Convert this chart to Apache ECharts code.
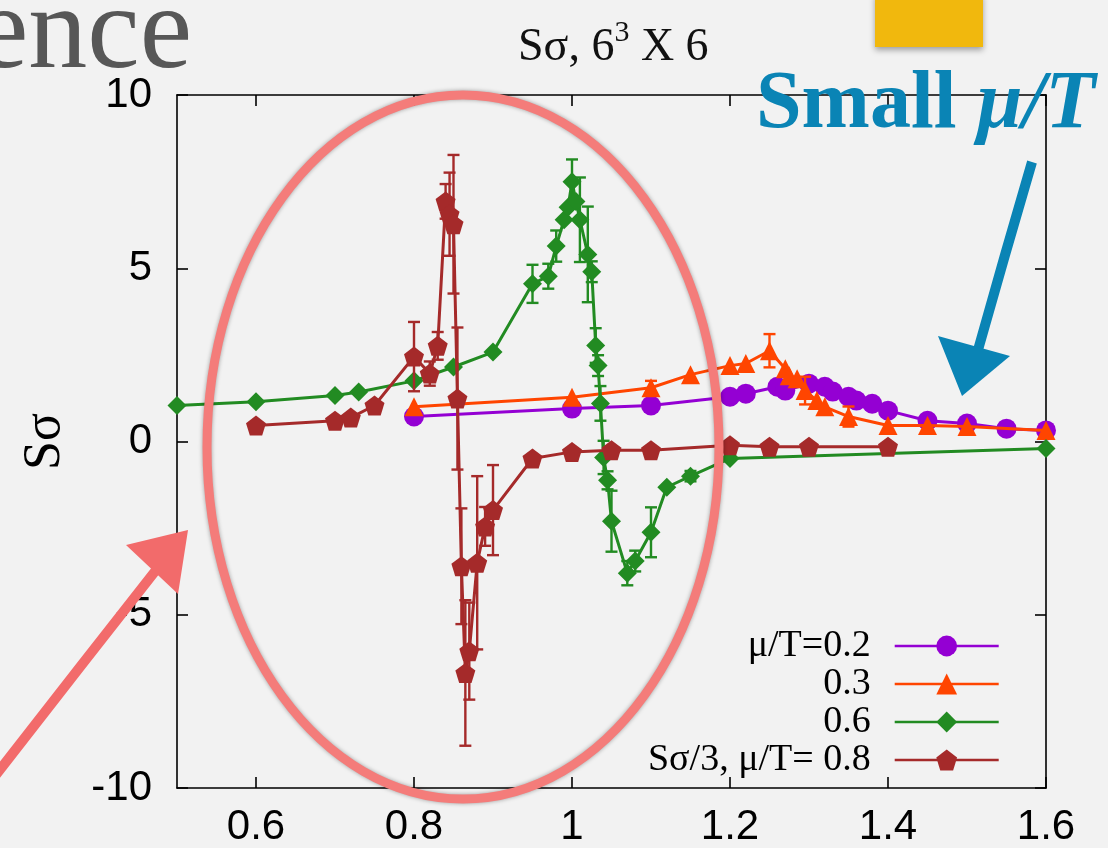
<!DOCTYPE html>
<html><head><meta charset="utf-8">
<script src="https://cdn.jsdelivr.net/npm/echarts@6/dist/echarts.min.js"></script>
<style>html,body{margin:0;padding:0;background:#f2f2f2}#c{width:1108px;height:848px}</style>
</head><body><div id="c"></div>
<script>
const xTicks = [0.6, 0.8, 1, 1.2, 1.4, 1.6];
const yTicks = [-10, -5, 0, 5, 10];
const seriesNames = ['μ/T=0.2', '0.3', '0.6', 'Sσ/3, μ/T= 0.8'];

const mu02x = [0.8, 1.0, 1.1, 1.2, 1.22, 1.26, 1.27, 1.3, 1.32, 1.33, 1.35, 1.36, 1.38, 1.4, 1.45, 1.5, 1.55, 1.6];
const mu02y = [0.72, 0.95, 1.04, 1.29, 1.38, 1.58, 1.47, 1.67, 1.58, 1.44, 1.29, 1.18, 1.09, 0.89, 0.6, 0.52, 0.37, 0.32];
const mu02e = [0, 0, 0, 0, 0, 0, 0, 0, 0, 0, 0, 0, 0, 0, 0, 0, 0, 0];

const mu03x = [0.8, 1.0, 1.1, 1.15, 1.2, 1.22, 1.25, 1.27, 1.275, 1.285, 1.295, 1.31, 1.32, 1.35, 1.4, 1.45, 1.5, 1.6];
const mu03y = [1.0, 1.28, 1.55, 1.93, 2.19, 2.25, 2.62, 2.1, 1.9, 1.81, 1.47, 1.18, 1.0, 0.72, 0.46, 0.46, 0.43, 0.32];
const mu03e = [0, 0, 0.2, 0, 0, 0, 0.48, 0, 0, 0, 0.4, 0, 0, 0.29, 0, 0, 0, 0];

const mu06x = [0.5, 0.6, 0.7, 0.73, 0.8, 0.85, 0.9, 0.95, 0.97, 0.98, 0.99, 0.995, 1.0, 1.005, 1.01, 1.02, 1.025, 1.03, 1.033, 1.036, 1.04, 1.045, 1.05, 1.07, 1.08, 1.1, 1.12, 1.15, 1.2, 1.6];
const mu06y = [1.04, 1.15, 1.33, 1.43, 1.75, 2.15, 2.58, 4.55, 4.77, 5.64, 6.4, 6.76, 7.5, 6.93, 6.4, 5.4, 4.9, 2.77, 2.19, 1.1, -0.46, -1.12, -2.3, -3.8, -3.45, -2.62, -1.32, -1.0, -0.49, -0.2];
const mu06e = [0, 0, 0, 0, 0, 0, 0, 0.55, 0.36, 0.45, 0, 0, 0.64, 0, 1.22, 1.38, 0.3, 0.5, 0.3, 0.5, 0.48, 0.26, 0.88, 0.35, 0.3, 0.72, 0, 0.15, 0, 0];

const mu08x = [0.6, 0.7, 0.72, 0.75, 0.8, 0.82, 0.83, 0.84, 0.845, 0.85, 0.855, 0.86, 0.865, 0.87, 0.88, 0.89, 0.9, 0.95, 1.0, 1.05, 1.1, 1.2, 1.25, 1.3, 1.4];
const mu08y = [0.46, 0.6, 0.69, 1.04, 2.45, 1.96, 2.76, 6.93, 6.56, 6.27, 1.24, -3.6, -6.68, -6.05, -3.5, -2.45, -1.98, -0.49, -0.3, -0.25, -0.25, -0.11, -0.15, -0.15, -0.15];
const mu08e = [0, 0, 0, 0, 1.0, 0.35, 0.4, 0.5, 1.2, 2.0, 2.05, 1.67, 2.1, 1.4, 2.5, 0.56, 1.3, 0, 0, 0, 0, 0, 0, 0, 0];

const colors = ['#9400d3', '#ff4500', '#228b22', '#a52a2a'];
const symbols = ['circle', 'triangle', 'diamond', 'path://M50,0 L97.6,34.5 L79.4,90.5 L20.6,90.5 L2.4,34.5 Z'];
const symSizes = [20, 19, 19, 20];
const allX = [mu02x, mu03x, mu06x, mu08x];
const allY = [mu02y, mu03y, mu06y, mu08y];
const allE = [mu02e, mu03e, mu06e, mu08e];

function errRender(color) {
  return function (params, api) {
    const x = api.value(0), y = api.value(1), e = api.value(2);
    const t = api.coord([x, y + e]), b = api.coord([x, y - e]);
    const hw = 6;
    const st = { stroke: color, lineWidth: 2.4 };
    return { type: 'group', children: [
      { type: 'line', shape: { x1: t[0], y1: t[1], x2: b[0], y2: b[1] }, style: st },
      { type: 'line', shape: { x1: t[0] - hw, y1: t[1], x2: t[0] + hw, y2: t[1] }, style: st },
      { type: 'line', shape: { x1: b[0] - hw, y1: b[1], x2: b[0] + hw, y2: b[1] }, style: st }
    ] };
  };
}

const series = [];
for (let i = 0; i < 4; i++) {
  const errData = [];
  allX[i].forEach((x, k) => { if (allE[i][k] > 0) errData.push([x, allY[i][k], allE[i][k]]); });
  series.push({
    type: 'custom', name: seriesNames[i] + '_err', renderItem: errRender(colors[i]),
    data: errData, z: 2 + i * 2, silent: true, encode: { x: 0, y: 1 }
  });
  series.push({
    type: 'line', name: seriesNames[i], data: allX[i].map((x, k) => [x, allY[i][k]]),
    symbol: symbols[i], symbolSize: symSizes[i], showAllSymbol: true,
    lineStyle: { color: colors[i], width: 3 }, itemStyle: { color: colors[i] },
    z: 3 + i * 2, animation: false
  });
}

const axisLineSt = { show: true, onZero: false, lineStyle: { color: '#000', width: 1.6 } };
const tickSt = { show: true, inside: true, length: 11, lineStyle: { color: '#000', width: 1.6 } };
const labelFont = { color: '#000', fontSize: 42, fontFamily: 'Liberation Sans' };

const chart = echarts.init(document.getElementById('c'));
chart.setOption({
  backgroundColor: '#f2f2f2',
  animation: false,
  title: {
    text: 'Sσ, 6{sup|3} X 6', left: 513, top: 13,
    textStyle: { fontFamily: 'Liberation Serif', fontSize: 46, fontWeight: 'normal', color: '#111', lineHeight: 60,
      rich: { sup: { fontSize: 30, fontFamily: 'Liberation Serif', color: '#111', lineHeight: 30, verticalAlign: 'top' } } }
  },
  grid: { left: 177, right: 62, top: 95, bottom: 58 },
  xAxis: [
    { type: 'value', min: 0.5, max: 1.6, position: 'bottom', axisLine: axisLineSt, splitLine: { show: false },
      axisTick: Object.assign({ customValues: xTicks }, tickSt),
      axisLabel: Object.assign({ customValues: xTicks, margin: 18 }, labelFont) },
    { type: 'value', min: 0.5, max: 1.6, position: 'top', axisLine: axisLineSt, splitLine: { show: false },
      axisTick: Object.assign({ customValues: xTicks }, tickSt), axisLabel: { show: false } }
  ],
  yAxis: [
    { type: 'value', min: -10, max: 10, interval: 5, position: 'left', axisLine: axisLineSt, splitLine: { show: false },
      axisTick: tickSt,
      name: 'Sσ', nameLocation: 'middle', nameGap: 106,
      nameTextStyle: { fontFamily: 'Liberation Serif', fontSize: 52, color: '#000' },
      axisLabel: Object.assign({ margin: 25 }, labelFont) },
    { type: 'value', min: -10, max: 10, interval: 5, position: 'right', axisLine: axisLineSt, splitLine: { show: false },
      axisTick: tickSt, axisLabel: { show: false } }
  ],
  legend: {
    data: seriesNames, orient: 'vertical', align: 'right', right: 108, top: 627, padding: 0,
    itemWidth: 104, itemHeight: 26, itemGap: 0,
    lineStyle: { width: 2.6 },
    textStyle: { fontFamily: 'Liberation Serif', fontSize: 38, color: '#000', lineHeight: 38, padding: [0, 19, 0, 0] }
  },
  series: series,
  graphic: [
    { type: 'text', z: 100, style: { x: 192, y: 36, text: 'ence', align: 'right', verticalAlign: 'middle',
      font: 'normal 118px "Liberation Serif"', fill: '#575757' } },
    { type: 'rect', z: 100, shape: { x: 875, y: -6, width: 108, height: 53 },
      style: { fill: '#f1b80d', shadowBlur: 6, shadowColor: 'rgba(0,0,0,0.35)', shadowOffsetY: 3 } },
    { type: 'ellipse', z: 100, shape: { cx: 463, cy: 447, rx: 256, ry: 352 },
      style: { fill: 'none', stroke: '#f47c7a', lineWidth: 9, shadowBlur: 4, shadowColor: 'rgba(0,0,0,0.35)' } },
    { type: 'text', z: 101, style: { x: 756, y: 106, text: '{a|Small }{b|μ/T}', verticalAlign: 'middle',
      rich: { a: { font: 'bold 82px "Liberation Serif"', fill: '#0a84b5' }, b: { font: 'italic bold 82px "Liberation Serif"', fill: '#0a84b5' } } } },
    { type: 'polyline', z: 100, shape: { points: [[1032, 162], [1005, 255], [978, 350]] },
      style: { stroke: '#0a84b5', lineWidth: 10, fill: 'none' } },
    { type: 'polygon', z: 100, shape: { points: [[938, 336], [1010, 356], [962, 396]] },
      style: { fill: '#0a84b5' } },
    { type: 'polyline', z: 100, shape: { points: [[-5, 776], [80, 667], [160, 565]] },
      style: { stroke: '#f26b6b', lineWidth: 10, fill: 'none' } },
    { type: 'polygon', z: 100, shape: { points: [[126, 545], [188, 530], [178, 594]] },
      style: { fill: '#f26b6b' } }
  ]
});
</script></body></html>
